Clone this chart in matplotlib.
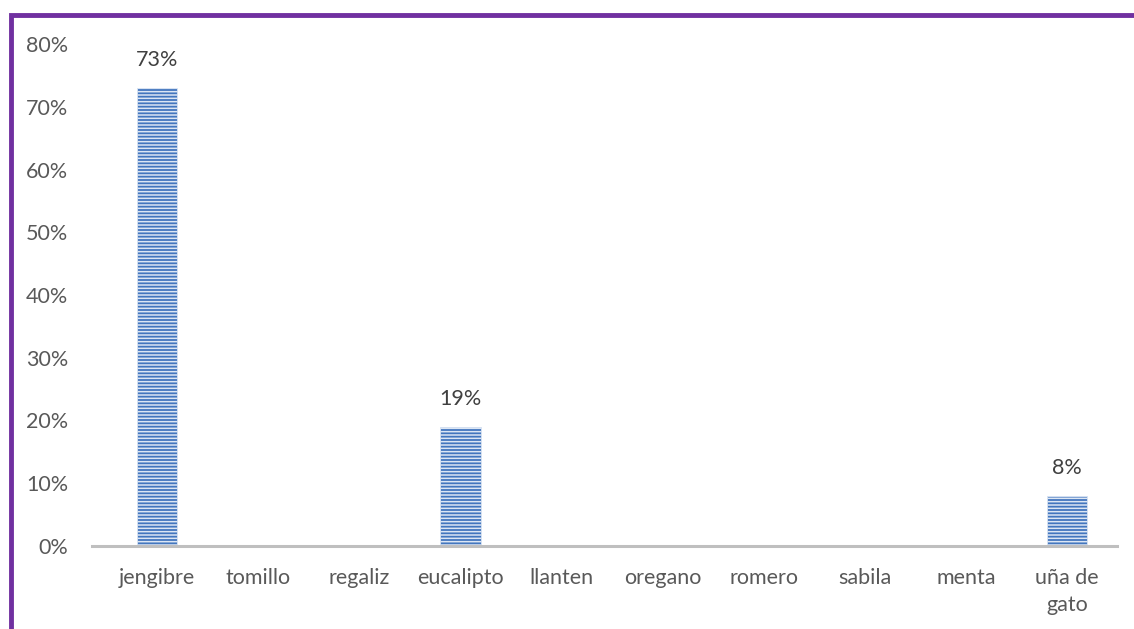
import numpy as np
from matplotlib import pyplot as plt
from matplotlib.patches import Rectangle

plantas = ["jengibre", "tomillo", "regaliz", "eucalipto", "llanten",
           "oregano", "romero", "sabila", "menta", "uña de\ngato"]
porcentajes = [73, 0, 0, 19, 0, 0, 0, 0, 0, 8]
etiquetas = {0: "73%", 3: "19%", 9: "8%"}

plt.rcParams['font.family'] = ['Lato', 'DejaVu Sans']
plt.rcParams['hatch.linewidth'] = 1.1
gris = '#595959'

fig = plt.figure(figsize=(11.34, 6.29), dpi=100)
ax = fig.add_axes([92 / 1134, 83 / 629, 1025 / 1134, (546 - 44) / 629])

x = np.arange(len(plantas))
ax.bar(x, porcentajes, width=0.4, color='#4376BE', edgecolor='#DCE6F4',
       hatch='-----', linewidth=0.6)

for i, txt in etiquetas.items():
    ax.annotate(txt, (x[i], porcentajes[i]), xytext=(0, 13), textcoords='offset points',
                ha='center', va='bottom', fontsize=15.5, color='#404040')

ax.set_xlim(-0.643, 9.495)
ax.set_ylim(0, 80)
ax.set_yticks(range(0, 81, 10))
ax.set_yticklabels([str(v) + "%" for v in range(0, 81, 10)])
ax.set_xticks(x)
ax.set_xticklabels(plantas, linespacing=1.45)
ax.tick_params(axis='both', length=0, labelsize=15.5, labelcolor=gris)
ax.tick_params(axis='y', pad=17)
ax.tick_params(axis='x', pad=16)

for s in ['top', 'right', 'left']:
    ax.spines[s].set_visible(False)
ax.spines['bottom'].set_color('#BFBFBF')
ax.spines['bottom'].set_linewidth(2.2)

# marco morado
fig.patches.append(Rectangle((10.5 / 1134, -0.1), 1.2, (629 - 14.5) / 629 + 0.1,
                             transform=fig.transFigure, fill=False,
                             edgecolor='#7030A0', linewidth=3.5))

fig.savefig("out.png", dpi=100)
